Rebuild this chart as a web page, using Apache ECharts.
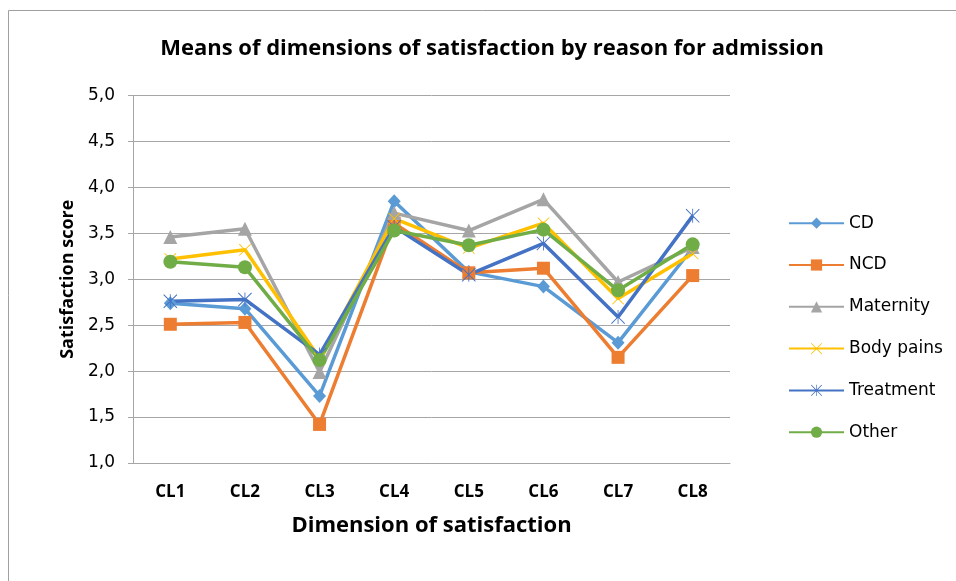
<!DOCTYPE html>
<html>
<head>
<meta charset="utf-8">
<script src="https://cdn.jsdelivr.net/npm/echarts@6/dist/echarts.min.js"></script>
<style>
  html, body { margin: 0; padding: 0; background: #ffffff; }
  #chart { width: 956px; height: 581px; }
</style>
</head>
<body>
<div id="chart"></div>
<script>
// Dimensions of satisfaction (x axis)
const categories = ['CL1', 'CL2', 'CL3', 'CL4', 'CL5', 'CL6', 'CL7', 'CL8'];

// Mean satisfaction score per reason for admission
const cd        = [2.74, 2.68, 1.73, 3.85, 3.08, 2.92, 2.31, 3.34];
const ncd       = [2.51, 2.53, 1.42, 3.61, 3.07, 3.12, 2.15, 3.04];
const maternity = [3.46, 3.55, 1.99, 3.72, 3.53, 3.87, 2.97, 3.35];
const bodyPains = [3.22, 3.32, 2.14, 3.66, 3.34, 3.61, 2.79, 3.28];
const treatment = [2.76, 2.78, 2.18, 3.57, 3.05, 3.39, 2.59, 3.69];
const other     = [3.19, 3.13, 2.12, 3.53, 3.37, 3.54, 2.88, 3.38];

const seriesNames = ['CD', 'NCD', 'Maternity', 'Body pains', 'Treatment', 'Other'];
const seriesValues = [cd, ncd, maternity, bodyPains, treatment, other];
const colors = ['#5B9BD5', '#ED7D31', '#A5A5A5', '#FFC000', '#4472C4', '#70AD47'];

// Marker shapes: cross and asterisk are drawn as thin-stroke outlines
const crossPath = 'path://M0,1 L1,0 L10,9 L19,0 L20,1 L11,10 L20,19 L19,20 L10,11 L1,20 L0,19 L9,10 Z';
const starPath = 'path://M0,1 L1,0 L10,9 L19,0 L20,1 L11,10 L20,19 L19,20 L10,11 L1,20 L0,19 L9,10 Z M9.4,0 L10.6,0 L10.6,20 L9.4,20 Z';
const symbols = ['diamond', 'rect', 'triangle', crossPath, starPath, 'circle'];
const symbolSizes = [[13, 14], 13, 14, 12, 14, 14];

const tickLabels = ['1,0', '1,5', '2,0', '2,5', '3,0', '3,5', '4,0', '4,5', '5,0'];

const chart = echarts.init(document.getElementById('chart'), null, { renderer: 'canvas' });

const series = seriesNames.map((name, i) => ({
  name: name,
  type: 'line',
  data: seriesValues[i],
  symbol: symbols[i],
  symbolSize: symbolSizes[i],
  showAllSymbol: true,
  lineStyle: { color: colors[i], width: 3.5 },
  itemStyle: { color: colors[i], borderWidth: 0 },
  emphasis: { disabled: true },
  animation: false
}));

chart.setOption({
  animation: false,
  color: colors,
  title: {
    text: 'Means of dimensions of satisfaction by reason for admission',
    left: 487,
    top: 33,
    textAlign: 'center',
    textStyle: {
      fontFamily: 'Open Sans',
      fontWeight: 'bold',
      fontSize: 22,
      color: '#000000'
    }
  },
  legend: {
    orient: 'vertical',
    left: 788,
    top: 214.7,
    padding: 0,
    itemWidth: 55,
    itemHeight: 14,
    itemGap: 24.8,
    data: seriesNames,
    textStyle: {
      fontFamily: 'DejaVu Sans',
      fontSize: 17,
      color: '#000000'
    }
  },
  grid: {
    left: 133,
    right: 226,
    top: 95.5,
    bottom: 118,
    containLabel: false
  },
  xAxis: {
    type: 'category',
    data: categories,
    boundaryGap: true,
    name: 'Dimension of satisfaction',
    nameLocation: 'middle',
    nameGap: 52,
    nameTextStyle: {
      fontFamily: 'Open Sans',
      fontWeight: 'bold',
      fontSize: 22,
      color: '#000000'
    },
    axisLine: { show: true, lineStyle: { color: '#A6A6A6', width: 1 } },
    axisTick: { show: false },
    axisLabel: {
      margin: 21,
      fontFamily: 'Open Sans',
      fontWeight: 'bold',
      fontSize: 17,
      color: '#000000'
    }
  },
  yAxis: {
    type: 'value',
    min: 1,
    max: 5,
    interval: 0.5,
    name: 'Satisfaction score',
    nameLocation: 'middle',
    nameGap: 54,
    nameRotate: 90,
    nameTextStyle: {
      fontFamily: 'Open Sans',
      fontWeight: 'bold',
      fontSize: 18,
      color: '#000000'
    },
    axisLine: { show: true, lineStyle: { color: '#A6A6A6', width: 1 } },
    axisTick: { show: true, length: 5, lineStyle: { color: '#A6A6A6' } },
    splitLine: { show: true, lineStyle: { color: '#A6A6A6', width: 1 } },
    axisLabel: {
      margin: 18,
      fontFamily: 'DejaVu Sans',
      fontSize: 17,
      color: '#000000',
      formatter: function (v) {
        const idx = Math.round((v - 1) / 0.5);
        return tickLabels[idx];
      }
    }
  },
  graphic: [
    { type: 'line', shape: { x1: 8.5, y1: 10.5, x2: 956, y2: 10.5 }, style: { stroke: '#A0A0A0', lineWidth: 1 } },
    { type: 'line', shape: { x1: 8.5, y1: 10.5, x2: 8.5, y2: 581 }, style: { stroke: '#A0A0A0', lineWidth: 1 } }
  ],
  series: series
});
</script>
</body>
</html>
